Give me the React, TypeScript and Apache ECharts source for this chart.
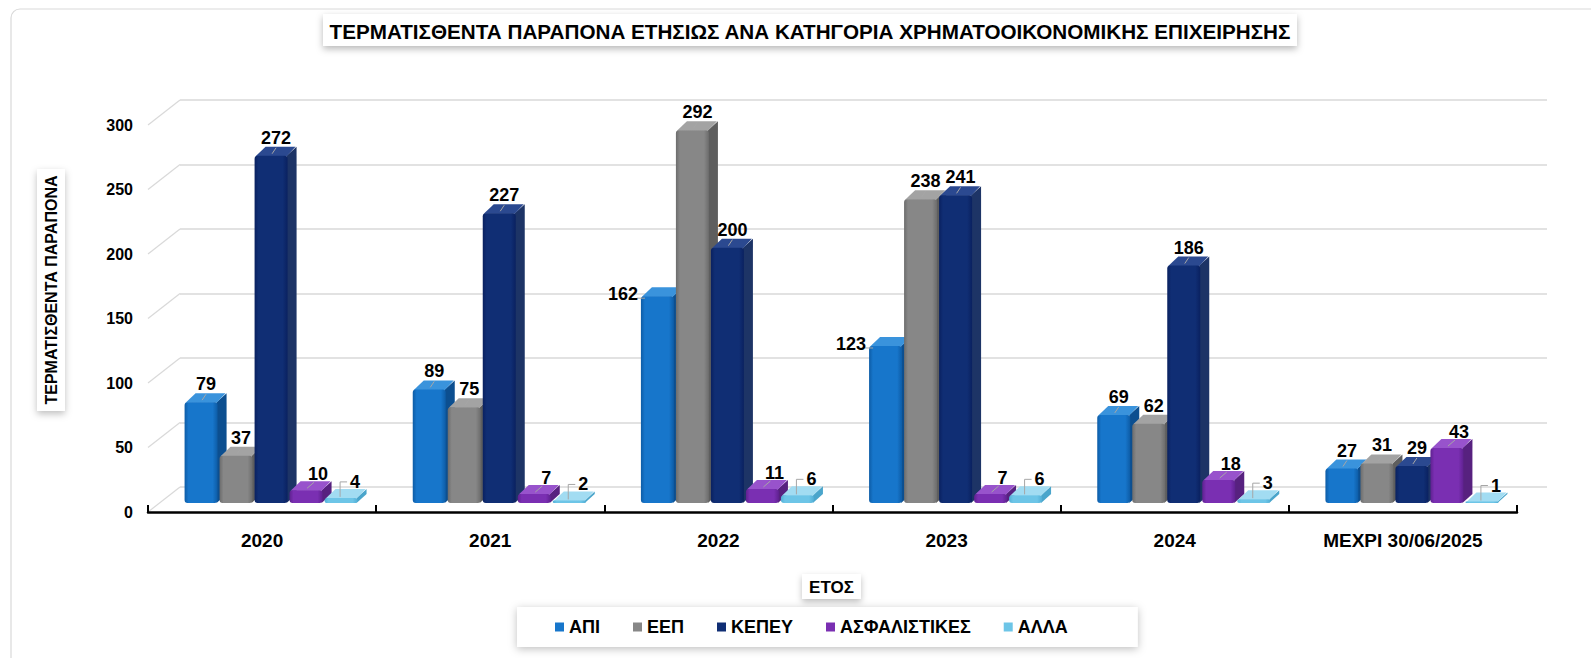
import React, { useEffect, useRef } from 'react';
import * as echarts from 'echarts';

const categories = ['2020', '2021', '2022', '2023', '2024', 'ΜΕΧΡΙ 30/06/2025'];
const seriesNames = ['ΑΠΙ', 'ΕΕΠ', 'ΚΕΠΕΥ', 'ΑΣΦΑΛΙΣΤΙΚΕΣ', 'ΑΛΛΑ'];
const apiValues = [79, 89, 162, 123, 69, 27];
const eepValues = [37, 75, 292, 238, 62, 31];
const kepeyValues = [272, 227, 200, 241, 186, 29];
const asfValues = [10, 7, 11, 7, 18, 43];
const allaValues = [4, 2, 6, 6, 3, 1];
const seriesValues = [apiValues, eepValues, kepeyValues, asfValues, allaValues];
const yTicks = [0, 50, 100, 150, 200, 250, 300];

const titleText = 'ΤΕΡΜΑΤΙΣΘΕΝΤΑ ΠΑΡΑΠΟΝΑ ΕΤΗΣΙΩΣ ΑΝΑ ΚΑΤΗΓΟΡΙΑ ΧΡΗΜΑΤΟΟΙΚΟΝΟΜΙΚΗΣ ΕΠΙΧΕΙΡΗΣΗΣ';
const yName = 'ΤΕΡΜΑΤΙΣΘΕΝΤΑ ΠΑΡΑΠΟΝΑ';
const xName = 'ΕΤΟΣ';

const palette = [
  { front: '#1776cb', edge: '#0d5ca6', top: '#3a93dc', side: '#0c4f90' },
  { front: '#878787', edge: '#6c6c6c', top: '#a3a3a3', side: '#5e5e5e' },
  { front: '#102e74', edge: '#0a2160', top: '#2b4990', side: '#1d3466' },
  { front: '#7a2fb2', edge: '#5f2190', top: '#9853cc', side: '#57217f' },
  { front: '#6dc5e7', edge: '#52afd6', top: '#a2dcf2', side: '#4aa5cb' },
];

const FONT = '"Liberation Sans", Arial, sans-serif';
const BAR_W = 33;
const SLOT = 35;
const DX = 9;
const DY = -9;

function makeRender(si: number) {
  return (params: any, api: any) => {
    const ci = api.value(0);
    const v = api.value(1);
    const base = api.coord([ci, 0]);
    const topP = api.coord([ci, v]);
    const cx = base[0] + (si - 2) * SLOT;
    const x0 = cx - BAR_W / 2;
    const x1 = x0 + BAR_W;
    const yb = base[1];
    const yt = Math.min(topP[1], yb - 1.5);
    const c = palette[si];
    const small = si >= 3;
    // label placed to the left when the neighbouring bar is much taller
    const leftSide = si === 0 && seriesValues[1][ci] > v + 50;
    let lx = small ? cx + (si === 4 ? 14 : 12) : cx + 5;
    let ly = small ? yt - 16 : yt - 18;
    if (leftSide) {
      lx = x0 - 18;
      ly = yt - 2;
    }
    const children: any[] = [
      {
        type: 'polygon',
        shape: { points: [[x1 - 1, yt], [x1 + DX, yt + DY], [x1 + DX, yb + DY], [x1 - 1, yb]] },
        style: { fill: c.side },
      },
      {
        type: 'polygon',
        shape: { points: [[x0 + 1, yt + 0.5], [x0 + DX + 2, yt + DY], [x1 + DX - 1, yt + DY], [x1 - 1, yt + 0.5]] },
        style: { fill: c.top },
      },
      {
        type: 'rect',
        shape: { x: x0, y: yt, width: BAR_W, height: yb - yt, r: Math.min(3, (yb - yt) / 2) },
        style: {
          fill: new echarts.graphic.LinearGradient(0, 0, 1, 0, [
            { offset: 0, color: c.edge },
            { offset: 0.12, color: c.front },
            { offset: 0.85, color: c.front },
            { offset: 1, color: c.edge },
          ]),
        },
      },
    ];
    if (si === 4) {
      children.push({
        type: 'polyline',
        shape: { points: [[cx - 1, yt - 1], [cx - 1, ly], [cx + 6, ly]] },
        style: { stroke: '#a6a6a6', lineWidth: 1, fill: 'none' },
        z2: 90,
      });
    } else if (leftSide) {
      children.push({
        type: 'line',
        shape: { x1: x0 + 4, y1: yt + 2, x2: lx + 14, y2: ly + 4 },
        style: { stroke: '#a6a6a6', lineWidth: 1 },
        z2: 90,
      });
    } else {
      children.push({
        type: 'line',
        shape: { x1: cx + 1, y1: yt - 2, x2: small ? cx + 8 : cx + 5, y2: yt - 8 },
        style: { stroke: '#a6a6a6', lineWidth: 1 },
        z2: 90,
      });
    }
    children.push({
      type: 'text',
      z2: 100,
      style: {
        text: String(v),
        x: lx,
        y: ly,
        fill: '#000',
        font: `bold 18px ${FONT}`,
        align: 'center',
        verticalAlign: 'middle',
      },
    });
    return { type: 'group', children };
  };
}

export default function App() {
  const ref = useRef<HTMLDivElement>(null);
  useEffect(() => {
    const chart = echarts.init(ref.current!, null, { renderer: 'svg' });

    let titleScale = 1;
    try {
      const ctx = document.createElement('canvas').getContext('2d')!;
      ctx.font = `bold 21px ${FONT}`;
      const w = ctx.measureText(titleText).width;
      if (w > 0) titleScale = 962 / w;
    } catch (e) {
      titleScale = 1;
    }

    const series: any[] = seriesNames.map((name, si) => ({
      type: 'custom',
      name,
      xAxisIndex: 0,
      yAxisIndex: 0,
      clip: false,
      itemStyle: { color: palette[si].front },
      encode: { x: 0, y: 1 },
      data: seriesValues[si].map((v, i) => [i, v]),
      renderItem: makeRender(si),
    }));

    const baseGraphics: any[] = [
      {
        id: 'frame',
        type: 'rect',
        shape: { x: 11, y: 9, width: 1620, height: 720, r: 9 },
        style: { fill: 'none', stroke: '#d9d9d9', lineWidth: 1.2 },
        silent: true,
      },
      {
        id: 'titleBox',
        type: 'rect',
        shape: { x: 323, y: 14, width: 974, height: 32 },
        style: { fill: '#fff', shadowBlur: 7, shadowOffsetY: 3, shadowColor: 'rgba(0,0,0,0.28)' },
      },
      {
        id: 'titleText',
        type: 'text',
        x: 810,
        y: 31,
        scaleX: titleScale,
        style: { text: titleText, font: `bold 21px ${FONT}`, fill: '#000', align: 'center', verticalAlign: 'middle' },
      },
      {
        id: 'yNameGroup',
        type: 'group',
        x: 51,
        y: 290,
        rotation: Math.PI / 2,
        children: [
          {
            type: 'rect',
            shape: { x: -121, y: -14, width: 242, height: 28 },
            style: { fill: '#fff', shadowBlur: 7, shadowOffsetX: -3, shadowColor: 'rgba(0,0,0,0.25)' },
          },
          {
            type: 'text',
            style: { text: yName, font: `bold 16px ${FONT}`, fill: '#000', align: 'center', verticalAlign: 'middle' },
          },
        ],
      },
      {
        id: 'xNameBox',
        type: 'rect',
        shape: { x: 802, y: 574, width: 59, height: 25 },
        style: { fill: '#fff', shadowBlur: 6, shadowOffsetY: 3, shadowColor: 'rgba(0,0,0,0.25)' },
      },
      {
        id: 'xNameText',
        type: 'text',
        x: 831.5,
        y: 587,
        style: { text: xName, font: `bold 17px ${FONT}`, fill: '#000', align: 'center', verticalAlign: 'middle' },
      },
    ];

    const option: any = {
      animation: false,
      backgroundColor: '#fff',
      grid: [
        { left: 157, right: 65, top: 120, bottom: 155 },
        { left: 148, right: 74, top: 125, bottom: 146 },
        { left: 180, right: 44, top: 100, bottom: 171 },
      ],
      xAxis: [
        { gridIndex: 0, type: 'category', data: categories, show: false },
        {
          gridIndex: 1,
          type: 'category',
          data: categories,
          axisLine: { lineStyle: { color: '#000', width: 2.5 } },
          axisTick: { show: true, inside: true, length: 7, lineStyle: { color: '#000', width: 2 } },
          axisLabel: { color: '#000', fontSize: 19, fontWeight: 'bold', fontFamily: FONT, margin: 19 },
        },
        { gridIndex: 2, type: 'category', data: categories, show: false },
      ],
      yAxis: [
        { gridIndex: 0, type: 'value', min: 0, max: 300, interval: 50, show: false, splitLine: { show: false } },
        {
          gridIndex: 1,
          type: 'value',
          min: 0,
          max: 300,
          interval: 50,
          axisLine: { show: false },
          axisTick: { show: false },
          splitLine: { show: false },
          axisLabel: { color: '#000', fontSize: 16, fontWeight: 'bold', fontFamily: FONT, margin: 15 },
        },
        {
          gridIndex: 2,
          type: 'value',
          min: 0,
          max: 300,
          interval: 50,
          axisLine: { show: false },
          axisTick: { show: false },
          axisLabel: { show: false },
          splitLine: { show: true, lineStyle: { color: '#d9d9d9', width: 1.5 } },
        },
      ],
      legend: {
        data: seriesNames,
        left: 517,
        top: 607,
        icon: 'rect',
        itemWidth: 9,
        itemHeight: 9,
        itemGap: 33,
        padding: [11, 70, 11, 38],
        backgroundColor: '#fff',
        shadowBlur: 8,
        shadowOffsetY: 2,
        shadowColor: 'rgba(0,0,0,0.25)',
        textStyle: { color: '#000', fontSize: 18, fontWeight: 'bold', fontFamily: FONT },
        selectedMode: false,
      },
      graphic: { elements: baseGraphics },
      series,
    };
    chart.setOption(option);

    const diag: any[] = yTicks.map((t, i) => {
      const yf = chart.convertToPixel({ yAxisIndex: 1 } as any, t) as any as number;
      const yk = chart.convertToPixel({ yAxisIndex: 2 } as any, t) as any as number;
      const xf = chart.convertToPixel({ xAxisIndex: 1 } as any, 0) as any as number;
      const xk = chart.convertToPixel({ xAxisIndex: 2 } as any, 0) as any as number;
      const halfF = 1369 / 12;
      const halfK = (1591 - 180 - 44) / 12;
      return {
        id: 'diag' + i,
        type: 'line',
        shape: { x1: xf - halfF, y1: yf, x2: xk - halfK, y2: yk },
        style: { stroke: '#d9d9d9', lineWidth: 1.2 },
        silent: true,
      };
    });
    chart.setOption({ graphic: { elements: diag } });

    return () => chart.dispose();
  }, []);
  return (
    <div
      ref={ref}
      style={{ position: 'fixed', left: 0, top: 0, width: 1591, height: 658, background: '#fff' }}
    />
  );
}
